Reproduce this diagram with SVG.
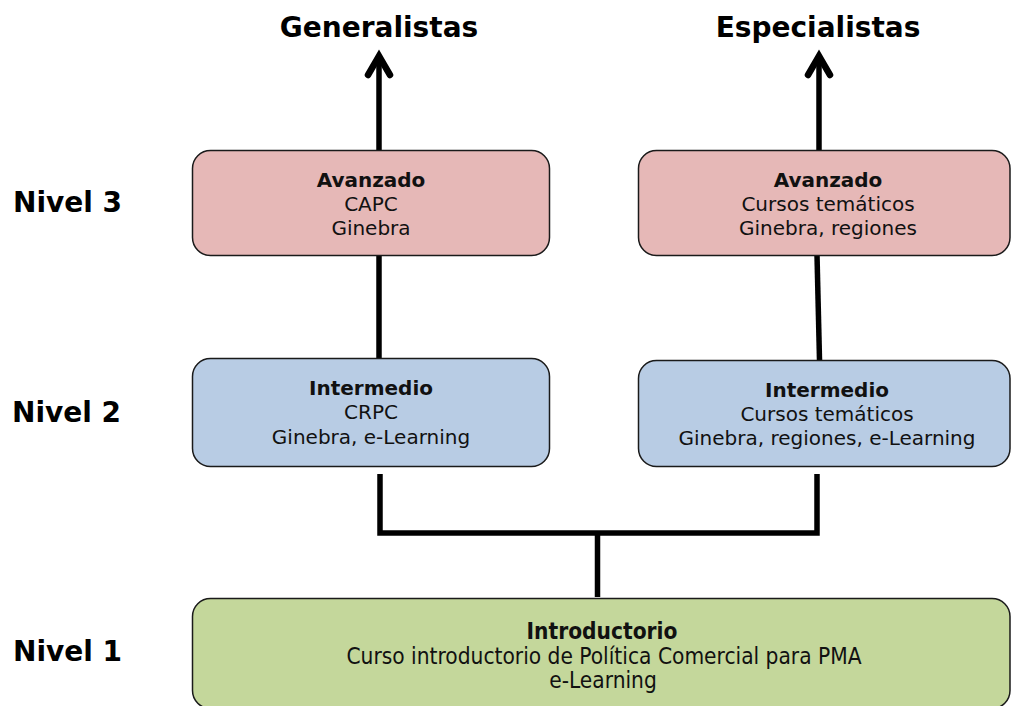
<svg xmlns="http://www.w3.org/2000/svg" width="1011" height="706" viewBox="0 0 1011 706">
<style>
.box{stroke:#1a1a1a;stroke-width:1.5}
.red{fill:#e6b8b7}.blue{fill:#b8cce4}.green{fill:#c4d79b}
.t{font-family:"DejaVu Sans",Verdana,sans-serif;font-size:20px;fill:#111;text-anchor:middle}
.b{font-weight:bold}
.big{font-family:"DejaVu Sans",Verdana,sans-serif;font-size:28px;font-weight:bold;fill:#000}
.c{font-family:"DejaVu Sans Condensed","DejaVu Sans",sans-serif;font-size:22.5px;fill:#111;text-anchor:middle}
.ln{fill:none;stroke:#000;stroke-width:5.5}
.ah{fill:none;stroke:#000;stroke-width:6.5;stroke-linecap:round;stroke-linejoin:miter}
</style>
<rect width="1011" height="706" fill="#fff"/>
<g id="labels">
<text class="big" x="379" y="37" text-anchor="middle">Generalistas</text>
<text class="big" x="818" y="37" text-anchor="middle">Especialistas</text>
<text class="big" x="13" y="212">Nivel 3</text>
<text class="big" x="12" y="422">Nivel 2</text>
<text class="big" x="13" y="661">Nivel 1</text>
</g>
<g id="connectors">
<line class="ln" x1="379" y1="150" x2="379" y2="58"/>
<polyline class="ah" points="368,75 379,56 390,75"/>
<line class="ln" x1="819" y1="150" x2="819" y2="58"/>
<polyline class="ah" points="808,75 819,56 830,75"/>
<line class="ln" x1="379" y1="255" x2="379" y2="358"/>
<line class="ln" x1="817" y1="255" x2="819.5" y2="360"/>
<polyline class="ln" points="380,474 380,533 817,533 817,474"/>
<line class="ln" x1="597.5" y1="533" x2="597.5" y2="597"/>
</g>
<g id="n3l">
<rect class="box red" x="192.5" y="150.5" width="357" height="105" rx="18"/>
<text class="t b" x="371" y="187">Avanzado</text>
<text class="t" x="371" y="211">CAPC</text>
<text class="t" x="371" y="235">Ginebra</text>
</g>
<g id="n3r">
<rect class="box red" x="638.5" y="150.5" width="371.5" height="105" rx="18"/>
<text class="t b" x="828" y="187">Avanzado</text>
<text class="t" x="828" y="211">Cursos temáticos</text>
<text class="t" x="828" y="235">Ginebra, regiones</text>
</g>
<g id="n2l">
<rect class="box blue" x="192.5" y="358.5" width="357" height="108" rx="18"/>
<text class="t b" x="371" y="395">Intermedio</text>
<text class="t" x="371" y="419">CRPC</text>
<text class="t" x="371" y="444">Ginebra, e-Learning</text>
</g>
<g id="n2r">
<rect class="box blue" x="638.5" y="360.5" width="371.5" height="106" rx="18"/>
<text class="t b" x="827" y="397">Intermedio</text>
<text class="t" x="827" y="421">Cursos temáticos</text>
<text class="t" x="827" y="445">Ginebra, regiones, e-Learning</text>
</g>
<g id="n1">
<rect class="box green" x="192.5" y="598.5" width="817.5" height="110" rx="18"/>
<text class="c b" x="602" y="639">Introductorio</text>
<text class="c" x="604" y="664">Curso introductorio de Política Comercial para PMA</text>
<text class="c" x="603" y="688">e-Learning</text>
</g>
</svg>
